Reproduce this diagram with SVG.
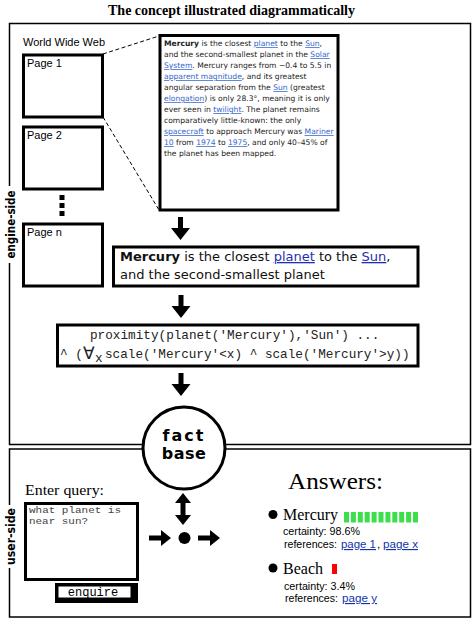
<svg xmlns="http://www.w3.org/2000/svg" width="474" height="620" viewBox="0 0 474 620">
<style>
.frame{fill:none;stroke:#000;stroke-width:1.5}
.box{fill:#fff;stroke:#000;stroke-width:3}
.sans{font-family:"Liberation Sans",Arial,sans-serif}
.dv{font-family:"DejaVu Sans",Verdana,sans-serif}
.mono{font-family:"Liberation Mono","Courier New",monospace}
.serif{font-family:"Liberation Serif","Times New Roman",serif}
.wiki{font-family:"DejaVu Sans",Verdana,sans-serif;font-size:7.6px;fill:#222}
.lk{fill:#3366cc;text-decoration:underline}
.lk2{fill:#1f2fb0;text-decoration:underline}
.lk3{fill:#1133aa;text-decoration:underline}
.side{font-family:"DejaVu Sans Condensed","Liberation Sans Narrow","DejaVu Sans",sans-serif;font-weight:bold;font-size:13px;fill:#000}
.green{fill:#3adf4a}
</style>
<defs>
<path id="dn" d="M-2.5,0 H2.5 V11 H9.5 L0,23 L-9.5,11 H-2.5 Z" fill="#000"/>
</defs>
<rect width="474" height="620" fill="#fff"/>

<text id="title" x="108" y="15" class="serif" font-weight="bold" font-size="14" textLength="247" lengthAdjust="spacingAndGlyphs">The concept illustrated diagrammatically</text>

<g id="engine-side">
<rect class="frame" x="9.5" y="23.5" width="461" height="421"/>
<rect x="2" y="186" width="15" height="77" fill="#fff"/>
<text class="side" transform="translate(10,224.5) rotate(-90)" text-anchor="middle" dominant-baseline="central" textLength="68" lengthAdjust="spacingAndGlyphs">engine-side</text>
</g>
<g id="user-side">
<rect class="frame" x="9.5" y="449" width="461" height="168"/>
<rect x="2" y="505" width="15" height="63" fill="#fff"/>
<text class="side" transform="translate(10,536.5) rotate(-90)" text-anchor="middle" dominant-baseline="central" textLength="57" lengthAdjust="spacingAndGlyphs">user-side</text>
</g>

<g id="www">
<text x="23" y="46" class="sans" font-size="11.5" textLength="82" lengthAdjust="spacingAndGlyphs">World Wide Web</text>
</g>
<g id="page1">
<rect class="box" x="23.5" y="55" width="79" height="62"/>
<text x="27" y="67" class="sans" font-size="11">Page 1</text>
</g>
<g id="page2">
<rect class="box" x="23.5" y="127" width="79" height="62"/>
<text x="27" y="139" class="sans" font-size="11">Page 2</text>
</g>
<g id="dots">
<rect x="59.5" y="195" width="5" height="5"/>
<rect x="59.5" y="203" width="5" height="5"/>
<rect x="59.5" y="211" width="5" height="5"/>
</g>
<g id="pagen">
<rect class="box" x="23.5" y="224" width="79" height="62"/>
<text x="27" y="236" class="sans" font-size="11">Page n</text>
</g>

<g id="connectors">
<line x1="103" y1="54" x2="159" y2="36" stroke="#000" stroke-width="1" stroke-dasharray="4,2.5"/>
<line x1="103" y1="117" x2="159" y2="210" stroke="#000" stroke-width="1" stroke-dasharray="4,2.5"/>
<use href="#dn" transform="translate(180.5,217)"/>
<use href="#dn" transform="translate(181,295)"/>
<use href="#dn" transform="translate(181,373)"/>
<path d="M183,493 L191,503 H185.5 V515 H191 L183,525 L175,515 H180.5 V503 H175 Z"/>
<path d="M149,535.5 H161 V530 L171,538 L161,546 V540.5 H149 Z"/>
<path d="M198,535.5 H210 V530 L220,538 L210,546 V540.5 H198 Z"/>
<circle cx="184.5" cy="538" r="6"/>
</g>

<g id="wiki">
<rect class="box" x="160" y="35.5" width="178" height="174.5" stroke-width="3.5"/>
<text class="wiki" x="164" y="46"><tspan font-weight="bold">Mercury</tspan> is the closest <tspan class="lk">planet</tspan> to the <tspan class="lk">Sun</tspan>,</text>
<text class="wiki" x="164" y="57">and the second-smallest planet in the <tspan class="lk">Solar</tspan></text>
<text class="wiki" x="164" y="68"><tspan class="lk">System</tspan>. Mercury ranges from −0.4 to 5.5 in</text>
<text class="wiki" x="164" y="79"><tspan class="lk">apparent magnitude</tspan>, and its greatest</text>
<text class="wiki" x="164" y="90">angular separation from the <tspan class="lk">Sun</tspan> (greatest</text>
<text class="wiki" x="164" y="101"><tspan class="lk">elongation</tspan>) is only 28.3°, meaning it is only</text>
<text class="wiki" x="164" y="112">ever seen in <tspan class="lk">twilight</tspan>. The planet remains</text>
<text class="wiki" x="164" y="123">comparatively little-known: the only</text>
<text class="wiki" x="164" y="134"><tspan class="lk">spacecraft</tspan> to approach Mercury was <tspan class="lk">Mariner</tspan></text>
<text class="wiki" x="164" y="145"><tspan class="lk">10</tspan> from <tspan class="lk">1974</tspan> to <tspan class="lk">1975</tspan>, and only 40–45% of</text>
<text class="wiki" x="164" y="156">the planet has been mapped.</text>
</g>

<g id="sentence">
<rect class="box" x="113.5" y="247" width="304.5" height="39"/>
<text class="dv" font-size="13" fill="#111" x="120" y="261"><tspan font-weight="bold">Mercury</tspan> is the closest <tspan class="lk2">planet</tspan> to the <tspan class="lk2">Sun</tspan>,</text>
<text class="dv" font-size="13" fill="#111" x="120" y="279">and the second-smallest planet</text>
</g>

<g id="formula">
<rect class="box" x="57.5" y="325" width="360.5" height="41"/>
<text class="mono" font-size="12.7" fill="#222" x="90" y="339">proximity(planet('Mercury'),'Sun') ...</text>
<text class="mono" font-size="12.7" fill="#222" x="60" y="358">^ (</text>
<text class="sans" font-size="17" fill="#222" x="83" y="359">∀</text>
<text class="mono" font-size="12.7" fill="#222" x="95" y="362">x</text>
<text class="mono" font-size="12.7" fill="#222" x="105" y="358">scale('Mercury'&lt;x) ^ scale('Mercury'&gt;y))</text>
</g>

<g id="factbase">
<circle cx="184" cy="448" r="41" fill="#fff" stroke="#000" stroke-width="3"/>
<text class="dv" font-weight="bold" font-size="16" x="184" y="441" text-anchor="middle" letter-spacing="2">fact</text>
<text class="dv" font-weight="bold" font-size="16" x="184" y="459" text-anchor="middle" letter-spacing="0.5">base</text>
</g>

<g id="query">
<text class="serif" font-size="14" x="25" y="495" textLength="79" lengthAdjust="spacingAndGlyphs">Enter query:</text>
<rect class="box" x="25.5" y="503.5" width="112" height="76"/>
<text class="mono" font-size="9.6" fill="#444" x="29" y="513" textLength="92" lengthAdjust="spacingAndGlyphs">what planet is</text>
<text class="mono" font-size="9.6" fill="#444" x="29" y="524" textLength="59" lengthAdjust="spacingAndGlyphs">near sun?</text>
</g>

<g id="enquire">
<rect x="55" y="583" width="83" height="20" fill="#000"/>
<rect x="58.5" y="586.5" width="72" height="11" fill="#fff"/>
<text class="mono" font-size="12" x="93" y="596" text-anchor="middle">enquire</text>
</g>

<g id="answers">
<text class="serif" font-size="23" x="288" y="489" textLength="95" lengthAdjust="spacingAndGlyphs">Answers:</text>
<circle cx="273" cy="514.5" r="4.5"/>
<text class="serif" font-size="16" x="283" y="520">Mercury</text>
<rect class="green" x="344" y="512" width="5" height="10.5"/>
<rect class="green" x="350.9" y="512" width="5" height="10.5"/>
<rect class="green" x="357.8" y="512" width="5" height="10.5"/>
<rect class="green" x="364.7" y="512" width="5" height="10.5"/>
<rect class="green" x="371.6" y="512" width="5" height="10.5"/>
<rect class="green" x="378.5" y="512" width="5" height="10.5"/>
<rect class="green" x="385.4" y="512" width="5" height="10.5"/>
<rect class="green" x="392.3" y="512" width="5" height="10.5"/>
<rect class="green" x="399.2" y="512" width="5" height="10.5"/>
<rect class="green" x="406.1" y="512" width="5" height="10.5"/>
<rect class="green" x="413" y="512" width="5" height="10.5"/>
<text class="sans" font-size="11.5" x="283" y="535" textLength="77" lengthAdjust="spacingAndGlyphs">certainty: 98.6%</text>
<text class="sans" font-size="11.5" x="284" y="548" textLength="53" lengthAdjust="spacingAndGlyphs">references:</text>
<text class="sans lk3" font-size="11.5" x="341" y="548" textLength="35" lengthAdjust="spacingAndGlyphs">page 1</text>
<text class="sans" font-size="11.5" x="377" y="548">,</text>
<text class="sans lk3" font-size="11.5" x="383" y="548" textLength="35" lengthAdjust="spacingAndGlyphs">page x</text>

<circle cx="273" cy="568" r="4.5"/>
<text class="serif" font-size="16" x="283" y="574">Beach</text>
<rect x="332" y="564" width="5" height="10" fill="#f00"/>
<text class="sans" font-size="11.5" x="284" y="589.5" textLength="71" lengthAdjust="spacingAndGlyphs">certainty: 3.4%</text>
<text class="sans" font-size="11.5" x="285" y="602" textLength="53" lengthAdjust="spacingAndGlyphs">references:</text>
<text class="sans lk3" font-size="11.5" x="342" y="602" textLength="35" lengthAdjust="spacingAndGlyphs">page y</text>
</g>
</svg>
